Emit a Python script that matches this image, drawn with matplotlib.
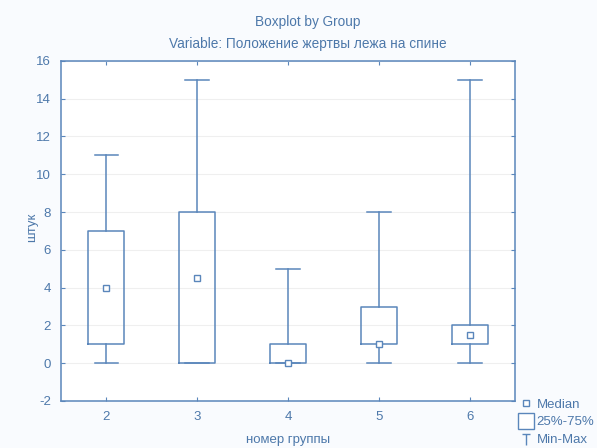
import matplotlib
matplotlib.use("Agg")
import matplotlib.pyplot as plt
from matplotlib.path import Path
from matplotlib.lines import Line2D

groups = [2, 3, 4, 5, 6]
mins = [0, 0, 0, 0, 0]
q1s = [1, 0, 0, 1, 1]
medians = [4, 4.5, 0, 1, 1.5]
q3s = [7, 8, 1, 3, 2]
maxs = [11, 15, 5, 8, 15]
yticks = [-2, 0, 2, 4, 6, 8, 10, 12, 14, 16]

LINE = "#5a86bb"
TEXT = "#4d78aa"

plt.rcParams['font.family'] = ['Liberation Sans', 'DejaVu Sans']

fig = plt.figure(figsize=(5.97, 4.48), dpi=100, facecolor="#f9fbfe")
ax = fig.add_axes([0.102, 0.105, 0.761, 0.759])
ax.set_facecolor("white")

stats = []
for g, lo, a, m, b, hi in zip(groups, mins, q1s, medians, q3s, maxs):
    stats.append(dict(label=str(g), whislo=lo, q1=a, med=m, q3=b, whishi=hi, fliers=[]))

props = dict(color=LINE, linewidth=1.1)
ax.bxp(stats, positions=groups, widths=0.4, capwidths=0.26, showfliers=False,
       boxprops=props, whiskerprops=props, capprops=props,
       medianprops=dict(linestyle='none'), manage_ticks=False)
ax.plot(groups, medians, linestyle='none', marker='s', markersize=4.5,
        markerfacecolor='white', markeredgecolor=LINE, markeredgewidth=1.0, zorder=3)

ax.set_xlim(1.5, 6.5)
ax.set_ylim(-2, 16)
ax.set_xticks(groups)
ax.set_xticklabels([str(g) for g in groups])
ax.set_yticks(yticks)
ax.set_yticklabels([str(t) for t in yticks])
ax.yaxis.grid(True, color="#efefef", linewidth=0.8)
ax.set_axisbelow(True)

for s in ax.spines.values():
    s.set_color(LINE)
    s.set_linewidth(1.1)
ax.tick_params(direction='in', length=3, width=0.8, color=LINE, labelcolor=TEXT,
               labelsize=9.5, top=True, right=True, pad=7)

ax.set_xlabel("номер группы", color=TEXT, fontsize=9.5, labelpad=8)
ax.set_ylabel("штук", color=TEXT, fontsize=9.5)
ax.yaxis.set_label_coords(-0.05, 0.51)

fig.text(0.516, 0.951, "Boxplot by Group", ha='center', va='center', color=TEXT, fontsize=9.8)
fig.text(0.516, 0.902, "Variable: Положение жертвы лежа на спине", ha='center', va='center',
         color=TEXT, fontsize=9.8)

tmark = Path([(-1, 1), (1, 1), (0, 1), (0, -1.6)],
             [Path.MOVETO, Path.LINETO, Path.MOVETO, Path.LINETO])
handles = [
    Line2D([], [], linestyle='none', marker='s', markersize=4.5, markerfacecolor='white',
           markeredgecolor=LINE, markeredgewidth=1.0),
    Line2D([], [], linestyle='none', marker='s', markersize=11.5, markerfacecolor='white',
           markeredgecolor=LINE, markeredgewidth=1.0),
    Line2D([], [], linestyle='none', marker=tmark, markersize=10, markerfacecolor='none',
           markeredgecolor=LINE, markeredgewidth=1.0),
]
leg = fig.legend(handles, ["Median", "25%-75%", "Min-Max"], loc='upper left',
                 bbox_to_anchor=(0.870, 0.110), frameon=False, fontsize=9.5,
                 handlelength=1.0, handletextpad=0.3, labelspacing=0.4,
                 borderaxespad=0, borderpad=0)
for t in leg.get_texts():
    t.set_color(TEXT)

fig.savefig("out.png", dpi=100, facecolor=fig.get_facecolor())
